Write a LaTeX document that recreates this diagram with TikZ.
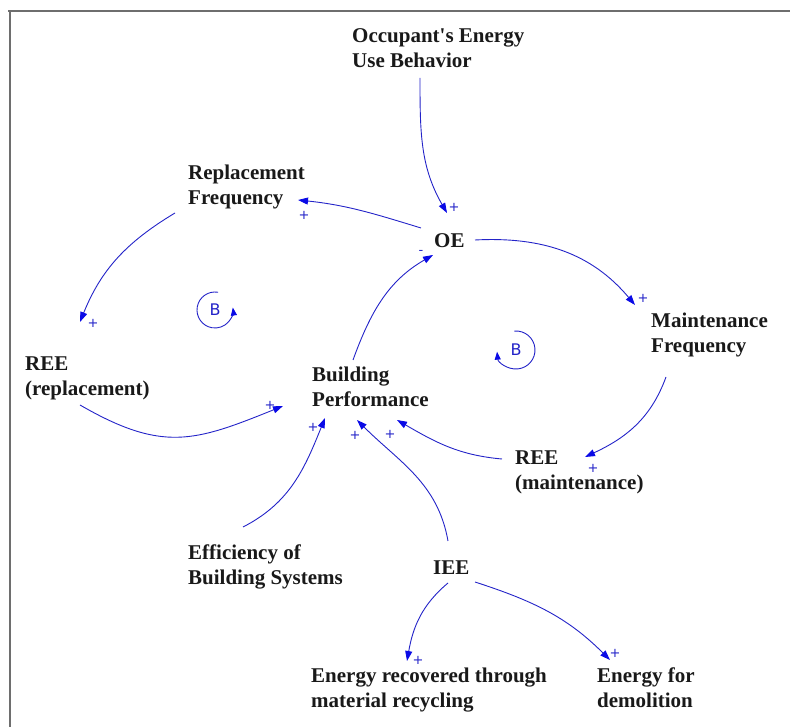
\documentclass[tikz,border=0pt]{standalone}
\usepackage{fontspec}
\setmainfont{Liberation Serif}
\newfontfamily\varfont{Liberation Serif}
\newfontfamily\signfont{DejaVu Sans}
\usetikzlibrary{arrows.meta}
\definecolor{linkblue}{RGB}{35,35,200}
\definecolor{tipblue}{RGB}{10,10,230}
\definecolor{labelgray}{RGB}{25,25,25}
\definecolor{framegray}{RGB}{110,110,110}
\begin{document}
\begin{tikzpicture}[x=1pt,y=1pt,
  var/.style={anchor=base west, inner sep=0pt, align=left, text=labelgray,
    font=\varfont\fontsize{21}{24.5}\selectfont\bfseries},
  link/.style={draw=linkblue, line width=0.9pt,
    -{Triangle[length=10pt,width=7pt,color=tipblue]}},
  sign/.style={text=linkblue, inner sep=0pt, font=\signfont\fontsize{13}{13}\selectfont},
  loopmark/.style={text=linkblue, inner sep=0pt, font=\signfont\fontsize{16}{16}\selectfont},
  looparc/.style={draw=linkblue, line width=0.9pt,
    -{Triangle[length=8pt,width=6pt,color=tipblue]}},
]
\useasboundingbox (0,0) rectangle (790,727);
% window frame
\draw[framegray, line width=1.5pt] (8,716) -- (790,716) (10,716) -- (10,0);

% variables (base anchor = baseline of the last line)
\node[var] (occ)  at (352,659.5) {Occupant's Energy\\Use Behavior};
\node[var] (rf)   at (188,522.5) {Replacement\\Frequency};
\node[var] (oe)   at (434,479)   {OE};
\node[var] (mf)   at (651,374.5) {Maintenance\\Frequency};
\node[var] (reer) at (25,331.5)  {REE\\(replacement)};
\node[var] (bp)   at (312,320.5) {Building\\Performance};
\node[var] (reem) at (515,237.5) {REE\\(maintenance)};
\node[var] (ebs)  at (188,142.5) {Efficiency of\\Building Systems};
\node[var] (iee)  at (433,152)   {IEE};
\node[var] (erc)  at (311,19.5)  {Energy recovered through\\material recycling};
\node[var] (efd)  at (597,19.5)  {Energy for\\demolition};

% causal links
\draw[link] ([xshift=68pt,yshift=-10.5pt]occ.base west) to[out=-90,in=120]
  node[sign,pos=1,shift={(7,6)}] (s1) {+} ([xshift=13pt,yshift=35pt]oe.base west);
\draw[link] ([xshift=-13pt,yshift=20pt]oe.base west) to[out=163,in=-6]
  node[sign,pos=1,shift={(6,-15)}] (s2) {+} ([xshift=110pt,yshift=4.5pt]rf.base west);
\draw[link] ([xshift=-13pt,yshift=-8.5pt]rf.base west) to[out=211,in=68]
  node[sign,pos=1,shift={(13,-1)}] (s3) {+} ([xshift=55pt,yshift=73.5pt]reer.base west);
\draw[link] ([xshift=55pt,yshift=-9.5pt]reer.base west) to[out=-30,in=-158,looseness=1.2]
  node[sign,pos=1,shift={(-13,1)}] (s4) {+} ([xshift=-29pt,yshift=0.5pt]bp.base west);
\draw[link] ([xshift=55pt,yshift=57.5pt]ebs.base west) to[out=27,in=-112]
  node[sign,pos=1,shift={(-12,-9)}] (s5) {+} ([xshift=13pt,yshift=-11.5pt]bp.base west);
\draw[link] ([xshift=15pt,yshift=34pt]iee.base west) to[out=100,in=-45]
  node[sign,pos=1,shift={(-2,-15)}] (s6) {+} ([xshift=45pt,yshift=-13.5pt]bp.base west);
\draw[link] ([xshift=-13pt,yshift=30.5pt]reem.base west) to[out=175,in=-30]
  node[sign,pos=1,shift={(-7,-14)}] (s7) {+} ([xshift=85pt,yshift=-13.5pt]bp.base west);
\draw[link] ([xshift=41pt,yshift=8pt]oe.base west) to[out=3,in=130]
  node[sign,pos=1,shift={(8,7)}] (s8) {+} ([xshift=-16pt,yshift=47.5pt]mf.base west);
\draw[link] ([xshift=15pt,yshift=-24.5pt]mf.base west) to[out=-110,in=25]
  node[sign,pos=1,shift={(8,-11)}] (s9) {+} ([xshift=70pt,yshift=32.5pt]reem.base west);
\draw[link] ([xshift=15pt,yshift=-8pt]iee.base west) to[out=-140,in=80]
  node[sign,pos=1,shift={(11,0.5)}] (s10) {+} ([xshift=96pt,yshift=46.5pt]erc.base west);
\draw[link] ([xshift=42pt,yshift=-7pt]iee.base west) to[out=-18,in=135]
  node[sign,pos=1,shift={(5,7)}] (s11) {+} ([xshift=13pt,yshift=47.5pt]efd.base west);
\draw[link] ([xshift=41pt,yshift=46.5pt]bp.base west) to[out=70,in=-150]
  node[sign,pos=1,shift={(-12,3)}] (s12) {-} ([xshift=-1pt,yshift=-7pt]oe.base west);

% loop polarity markers
\node[loopmark] (bl) at (215,417) {B};
\draw[looparc] ([shift={(80:18pt)}]bl.center) arc[start angle=80,end angle=368,radius=18pt];
\node[loopmark] (br) at (516,377) {B};
\draw[looparc] ([shift={(95:19pt)}]br.center) arc[start angle=95,end angle=-175,radius=19pt];
\end{tikzpicture}
\end{document}
